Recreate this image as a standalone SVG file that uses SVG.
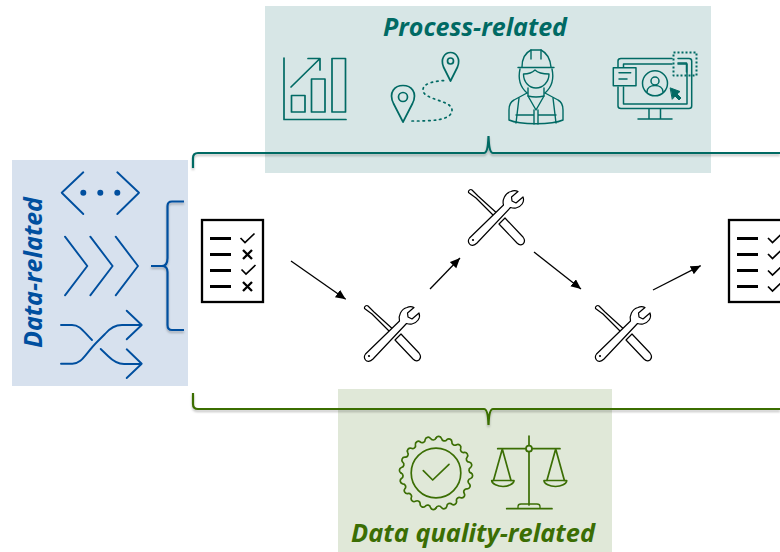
<svg xmlns="http://www.w3.org/2000/svg" width="780" height="552" viewBox="0 0 780 552">
<style>
.ico{fill:none;stroke-linecap:round;stroke-linejoin:round}
.t{stroke:#006a64;stroke-width:1.7}
.b{stroke:#004f9f;stroke-width:1.9}
.g{stroke:#3b6e04;stroke-width:1.7}
.title{font-family:"Open Sans",sans-serif;font-weight:700;font-style:italic;font-size:25px}
.tool{fill:#fff;stroke:#000;stroke-width:1.2;stroke-linejoin:round}
.conn{fill:none;stroke:#000;stroke-width:1.3;marker-end:url(#ah)}
</style>
<defs>
<marker id="ah" markerUnits="userSpaceOnUse" markerWidth="12" markerHeight="12" refX="10" refY="4.5" orient="auto"><path d="M0 0L10 4.500L0 9Z" fill="#000"/></marker>
<filter id="sh" x="-5%" y="-20%" width="110%" height="150%"><feDropShadow dx="0" dy="2" stdDeviation="1.2" flood-color="#000" flood-opacity=".25"/></filter>
<g id="tool-icon">
<path class="tool" d="M37 29L55 48Q58 52 55 55Q52 57 49 54L31 35Z"/>
<path class="tool" d="M0.500 3.500Q0 2 1.500 1Q3 0 4 1L10 7L32 27L29 30L8 9Z"/>
<path class="tool" d="M1.500 49L35.500 16C34 11 37 4 43 2.500C45 1.500 48 1.500 50 2.500L43.500 8L44 12L48 14L55 8C57 13 53 18 48 19C46 19.500 44 19 42.500 18.500L9 54C6 57 3 57 1.500 55C0 53 0 51 1.500 49Z"/>
<circle cx="5" cy="51" r="1.100" fill="#000"/>
</g>
<path id="check" d="M0 4.500L4.500 9L14 0" fill="none" stroke="#000" stroke-width="1.700"/>
<path id="cross" d="M0 0L9 9M9 0L0 9" fill="none" stroke="#000" stroke-width="2.300"/>
<g id="sheet">
<rect x="2" y="2" width="61" height="82" fill="#fff" stroke="#000" stroke-width="2.300"/>
<path d="M10 20.500H31M10 36.500H31M10 52.500H31M10 68.500H31" stroke="#000" stroke-width="2.800"/>
</g>
<path id="wave" d="M35 0A3 3 0 0 1 34.570 5.480A3 3 0 0 0 33.290 10.820A3 3 0 0 1 31.190 15.890A3 3 0 0 0 28.320 20.570A3 3 0 0 1 24.750 24.750A3 3 0 0 0 20.570 28.320A3 3 0 0 1 15.890 31.190A3 3 0 0 0 10.820 33.290A3 3 0 0 1 5.480 34.570A3 3 0 0 0 0 35"/>
</defs>

<rect id="panel-process" x="265" y="6" width="446" height="167" fill="#d7e6e6"/>
<rect id="panel-data" x="12" y="160" width="176" height="226" fill="#d7e1ee"/>
<rect id="panel-quality" x="338" y="389" width="274" height="163" fill="#e0e8d8"/>

<g id="brackets" fill="none" stroke-width="2.200" filter="url(#sh)">
<path stroke="#006a64" d="M193 168V158Q193 153 198 153H484Q488 153 488.500 136Q489 153 493 153H780"/>
<path stroke="#3b6e04" d="M193 393V404Q193 409 198 409H484Q488 409 488.500 425Q489 409 493 409H780"/>
<path stroke="#004f9f" d="M184 201.500H172Q167.500 201.500 167.500 206V258Q167.500 266 162 266H151H162Q167.500 266 167.500 272V325Q167.500 330 172 330H184"/>
</g>

<g id="process-related">
<text class="title" x="383" y="36" fill="#006a64" textLength="184" lengthAdjust="spacingAndGlyphs">Process-related</text>
<g id="icon-chart" class="ico t">
<path d="M284 58V119.500H346"/>
<rect x="291.500" y="95.500" width="13.500" height="16.500"/>
<rect x="311.500" y="79" width="13.500" height="33"/>
<rect x="332" y="58.500" width="13.500" height="53.500"/>
<path d="M291 87L319.500 59M308 58.500H320V70"/>
</g>
<g id="icon-route" class="ico t">
<path d="M403 122L393.500 103.500C388 92 395 85.500 403 85.500C411 85.500 418 92 412.500 103.500Z"/>
<circle cx="403" cy="97" r="4.500"/>
<path d="M450.500 81L443.500 67C440 58.500 445 52.500 450.500 52.500C456 52.500 461 58.500 457.500 67Z"/>
<circle cx="450.500" cy="61" r="3"/>
<path d="M412 121C430 121 452 121 452 110C452 100 423 100 423 90C423 83 435 81 445 80.500" stroke-dasharray="1.500 4"/>
</g>
<g id="icon-worker" class="ico t" style="stroke-width:1.400">
<path d="M522 67C522 57 527 52 531 50H541C545 52 550 57 551 67"/>
<path d="M531 50V59M541 50V59M518 67.500H554"/>
<path d="M520 69C518 78 519 86 527 93M552 69C554 78 553 86 545 93"/>
<path d="M523.500 74C528 74 533 72 535 70C538 73 544 74 549 74C549 82 543 88 536 88C529 88 523.500 82 523.500 74Z"/>
<path d="M528 88V96M544 88V96M528 96Q536 98 544 96"/>
<path d="M527 93L514 100C510 102 509 105 509 110V120C520 125 552 125 563 120V110C563 105 562 102 558 100L545 93"/>
<path d="M519 98L516 123M553 98L556 123M528 96L536 110L544 96M534 110V124M538 110V124M516 115H534M538 115H556"/>
</g>
<g id="icon-screen" class="ico t" style="stroke-width:1.500">
<path d="M618 67V61Q618 58.500 621 58.500H672M678 58.500H689Q691.700 58.500 691.700 61V106Q691.700 108.500 689 108.500H621Q618 108.500 618 106V87"/>
<path d="M623.500 87V104H687V64H678M623.500 67V64H672"/>
<rect x="613.300" y="67.700" width="22.700" height="18"/>
<path d="M619 72.700H630.700M619 79H627"/>
<circle cx="655" cy="83.300" r="12.500"/>
<circle cx="655" cy="81" r="4"/>
<path d="M647 92C647 87.500 651 85.500 655 85.500C659 85.500 663 87.500 663 92"/>
<path d="M649 109V119M660.500 109V119M638 119H672"/>
<rect x="673.500" y="52.500" width="23" height="23" stroke-dasharray="2 2" stroke-linecap="butt" stroke-width="2"/>
<path d="M678 63H686.500V72"/>
<path d="M670.500 88L680 91.500L677 94L681 98L679 100L675 96L672.500 99Z" fill="#006a64" stroke-width="1"/>
</g>
</g>

<g id="data-related">
<text class="title" transform="translate(42 348) rotate(-90)" fill="#004f9f" textLength="151" lengthAdjust="spacingAndGlyphs">Data-related</text>
<g id="icon-code" class="ico b">
<path d="M83.300 172.300L61.700 192.700L83.300 214M117.300 172.300L139 192.700L117.300 214"/>
<g fill="#004f9f" stroke="none"><circle cx="83.300" cy="192.700" r="3"/><circle cx="100.300" cy="192.700" r="3"/><circle cx="117.300" cy="192.700" r="3"/></g>
</g>
<g id="icon-chevrons" class="ico b">
<path d="M65 236.700L87.300 266L65 295.300M90.300 236.700L112.600 266L90.300 295.300M115.700 236.700L138 266L115.700 295.300"/>
</g>
<g id="icon-shuffle" class="ico b">
<path d="M61 325H72C80 325 83 331 92 340"/>
<path d="M61 363.700H72C82 364 85 354 97 342L105 334C110 328 115 325 122 325H141"/>
<path d="M100.700 349L108 356C113 361 118 364 124 364H141"/>
<path d="M126.700 310.700L141.700 325L126.700 339.300M126.700 349.300L141.700 363.700L126.700 378"/>
</g>
</g>

<g id="data-quality-related">
<text class="title" x="351" y="542" fill="#3b6e04" textLength="244" lengthAdjust="spacingAndGlyphs">Data quality-related</text>
<g id="icon-badge" class="ico g" transform="translate(436 473)">
<use href="#wave"/>
<use href="#wave" transform="rotate(90)"/>
<use href="#wave" transform="rotate(180)"/>
<use href="#wave" transform="rotate(270)"/>
<circle r="24.800"/>
<path d="M-12.700 -2.300L-3.300 7L13 -8.700"/>
</g>
<g id="icon-scales" class="ico g">
<path d="M529 436V505M497.700 448.700H560"/>
<circle cx="529" cy="448.700" r="3" fill="#e0e8d8"/>
<path d="M502.300 449L493.500 480.500M502.300 449L511 480.500M555.700 449L546.900 480.500M555.700 449L564.400 480.500"/>
<path d="M491.700 480.500H514C514 484 508 486.500 503 486.500C498 486.500 491.700 484 491.700 480.500ZM544 480.500H566.700C566.700 484 561 486.500 555.500 486.500C550 486.500 544 484 544 480.500Z"/>
<path d="M506.700 508.700H552"/>
<path d="M518 508V506.500Q518 504 521 504H537Q540 504 540 506.500V508" stroke-width="1.300"/>
</g>
</g>

<g id="checklist-start" transform="translate(200 218)">
<use href="#sheet"/>
<use href="#check" x="40.500" y="15.500"/>
<use href="#cross" x="43" y="32"/>
<use href="#check" x="41.500" y="47"/>
<use href="#cross" x="43" y="64"/>
</g>
<g id="checklist-end" transform="translate(727 218)">
<use href="#sheet"/>
<use href="#check" x="41" y="15.500"/>
<use href="#check" x="41" y="31.500"/>
<use href="#check" x="41" y="48"/>
<use href="#check" x="41" y="64"/>
</g>
<g id="tool-1"><use href="#tool-icon" x="364" y="305"/></g>
<g id="tool-2"><use href="#tool-icon" x="468" y="189"/></g>
<g id="tool-3"><use href="#tool-icon" x="595" y="305"/></g>

<g id="connectors">
<path class="conn" d="M291 261L345.700 299.300"/>
<path class="conn" d="M430 289L460 258"/>
<path class="conn" d="M534 252L581 289"/>
<path class="conn" d="M653 290L700.700 265.700"/>
</g>
</svg>
